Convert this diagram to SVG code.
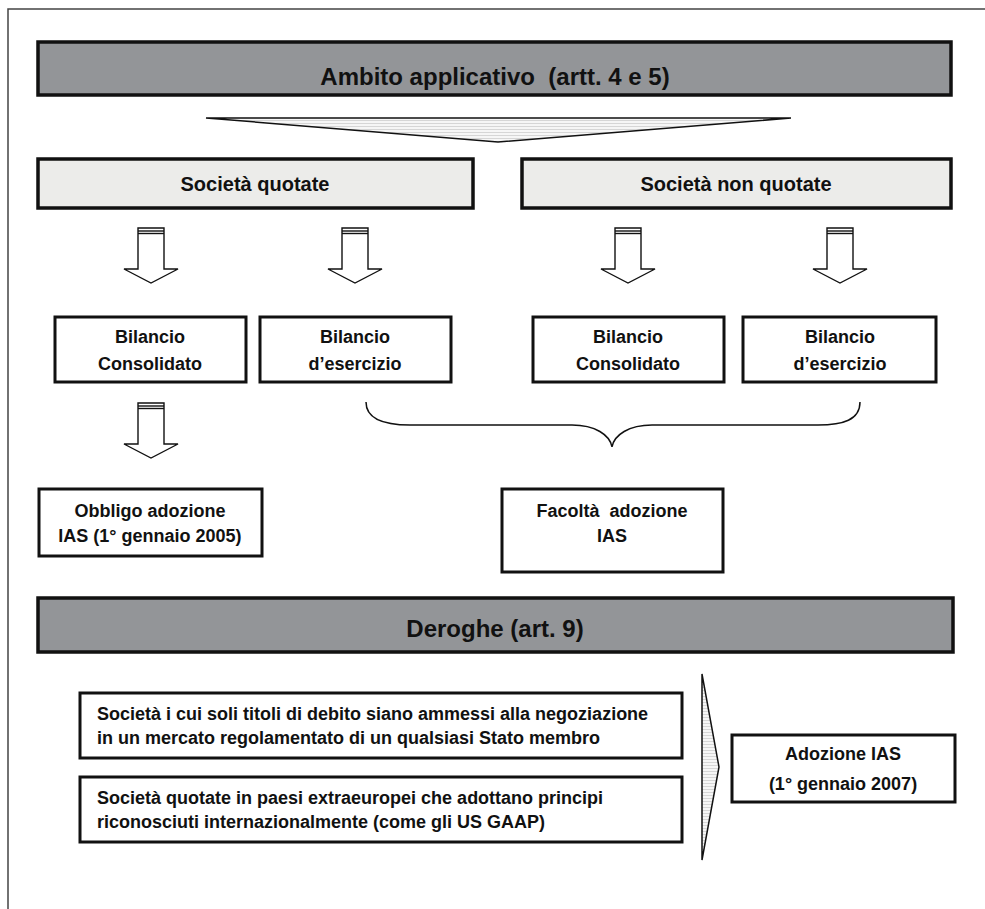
<svg xmlns="http://www.w3.org/2000/svg" width="985" height="909" viewBox="0 0 985 909">
<defs>
<style>
.t{font-family:"Liberation Sans",Arial,sans-serif;font-weight:bold;fill:#111;}
.hd{fill:#939598;stroke:#111;stroke-width:3.5;}
.lt{fill:#ececea;stroke:#111;stroke-width:3.5;}
.bx{fill:#fff;stroke:#111;stroke-width:3;}
.ar{fill:#fff;stroke:#111;stroke-width:1.4;}
.bar{stroke:#111;stroke-width:1.4;}
.c{text-anchor:middle;}
</style>
<pattern id="stripes" width="4" height="3" patternUnits="userSpaceOnUse">
<rect width="4" height="3" fill="#f6f6f6"/>
<rect y="0" width="4" height="1" fill="#d6d6d6"/>
</pattern>
<g id="barrow">
<path class="ar" d="M-13,0 L13,0 L13,41 L27,41 L0,55 L-27,41 L-13,41 Z"/>
<line class="bar" x1="-13" y1="3" x2="13" y2="3"/>
<line class="bar" x1="-13" y1="5.5" x2="13" y2="5.5"/>
</g>
</defs>

<path d="M8,909 L8,9 L985,9" fill="none" stroke="#444" stroke-width="1.5"/>

<g id="header-ambito">
<rect class="hd" x="38" y="42" width="913" height="53"/>
<text class="t c" x="495" y="85" font-size="24" xml:space="preserve">Ambito applicativo  (artt. 4 e 5)</text>
</g>

<g id="connectors">
<polygon points="206,118 791,118 498,142" fill="url(#stripes)" stroke="#111" stroke-width="1.5"/>
<use href="#barrow" x="151" y="228"/>
<use href="#barrow" x="355" y="228"/>
<use href="#barrow" x="628" y="228"/>
<use href="#barrow" x="840" y="228"/>
<use href="#barrow" x="151" y="403"/>
<path d="M366,402 C366,420 385,425 410,425 L572,425 C595,425 610,435 612,447 C614,435 629,425 652,425 L818,425 C843,425 860,420 860,402" fill="none" stroke="#111" stroke-width="1.5"/>
<polygon points="702,674 719,767 702,860" fill="url(#stripes)" stroke="#111" stroke-width="1.5"/>
</g>

<g id="societa-quotate">
<rect class="lt" x="38" y="159" width="435" height="49"/>
<text class="t c" x="255" y="191" font-size="20">Società quotate</text>
</g>
<g id="societa-non-quotate">
<rect class="lt" x="522" y="159" width="429" height="49"/>
<text class="t c" x="736" y="191" font-size="20">Società non quotate</text>
</g>

<g id="bil-cons-q">
<rect class="bx" x="55" y="317" width="191" height="65"/>
<text class="t c" x="150" y="343" font-size="18">Bilancio</text>
<text class="t c" x="150" y="370" font-size="18">Consolidato</text>
</g>
<g id="bil-es-q">
<rect class="bx" x="260" y="317" width="191" height="65"/>
<text class="t c" x="355" y="343" font-size="18">Bilancio</text>
<text class="t c" x="355" y="370" font-size="18">d’esercizio</text>
</g>
<g id="bil-cons-nq">
<rect class="bx" x="533" y="317" width="191" height="65"/>
<text class="t c" x="628" y="343" font-size="18">Bilancio</text>
<text class="t c" x="628" y="370" font-size="18">Consolidato</text>
</g>
<g id="bil-es-nq">
<rect class="bx" x="743" y="317" width="193" height="65"/>
<text class="t c" x="840" y="343" font-size="18">Bilancio</text>
<text class="t c" x="840" y="370" font-size="18">d’esercizio</text>
</g>

<g id="obbligo">
<rect class="bx" x="39" y="489" width="223" height="67"/>
<text class="t c" x="150" y="517" font-size="18">Obbligo adozione</text>
<text class="t c" x="150" y="542" font-size="18">IAS (1° gennaio 2005)</text>
</g>
<g id="facolta">
<rect class="bx" x="502" y="489" width="221" height="83"/>
<text class="t c" x="612" y="517" font-size="18" xml:space="preserve">Facoltà  adozione</text>
<text class="t c" x="612" y="542" font-size="18">IAS</text>
</g>

<g id="header-deroghe">
<rect class="hd" x="38" y="598" width="915" height="54"/>
<text class="t c" x="495" y="637" font-size="24">Deroghe (art. 9)</text>
</g>

<g id="deroga-debito">
<rect class="bx" x="80" y="693" width="602" height="65"/>
<text class="t" x="97" y="720" font-size="18">Società i cui soli titoli di debito siano ammessi alla negoziazione</text>
<text class="t" x="97" y="744" font-size="18">in un mercato regolamentato di un qualsiasi Stato membro</text>
</g>
<g id="deroga-extra">
<rect class="bx" x="80" y="777" width="602" height="65"/>
<text class="t" x="97" y="804" font-size="18">Società quotate in paesi extraeuropei che adottano principi</text>
<text class="t" x="97" y="828" font-size="18">riconosciuti internazionalmente (come gli US GAAP)</text>
</g>

<g id="adozione-2007">
<rect class="bx" x="732" y="735" width="223" height="67"/>
<text class="t c" x="843" y="760" font-size="18">Adozione IAS</text>
<text class="t c" x="843" y="790" font-size="18">(1° gennaio 2007)</text>
</g>
</svg>
